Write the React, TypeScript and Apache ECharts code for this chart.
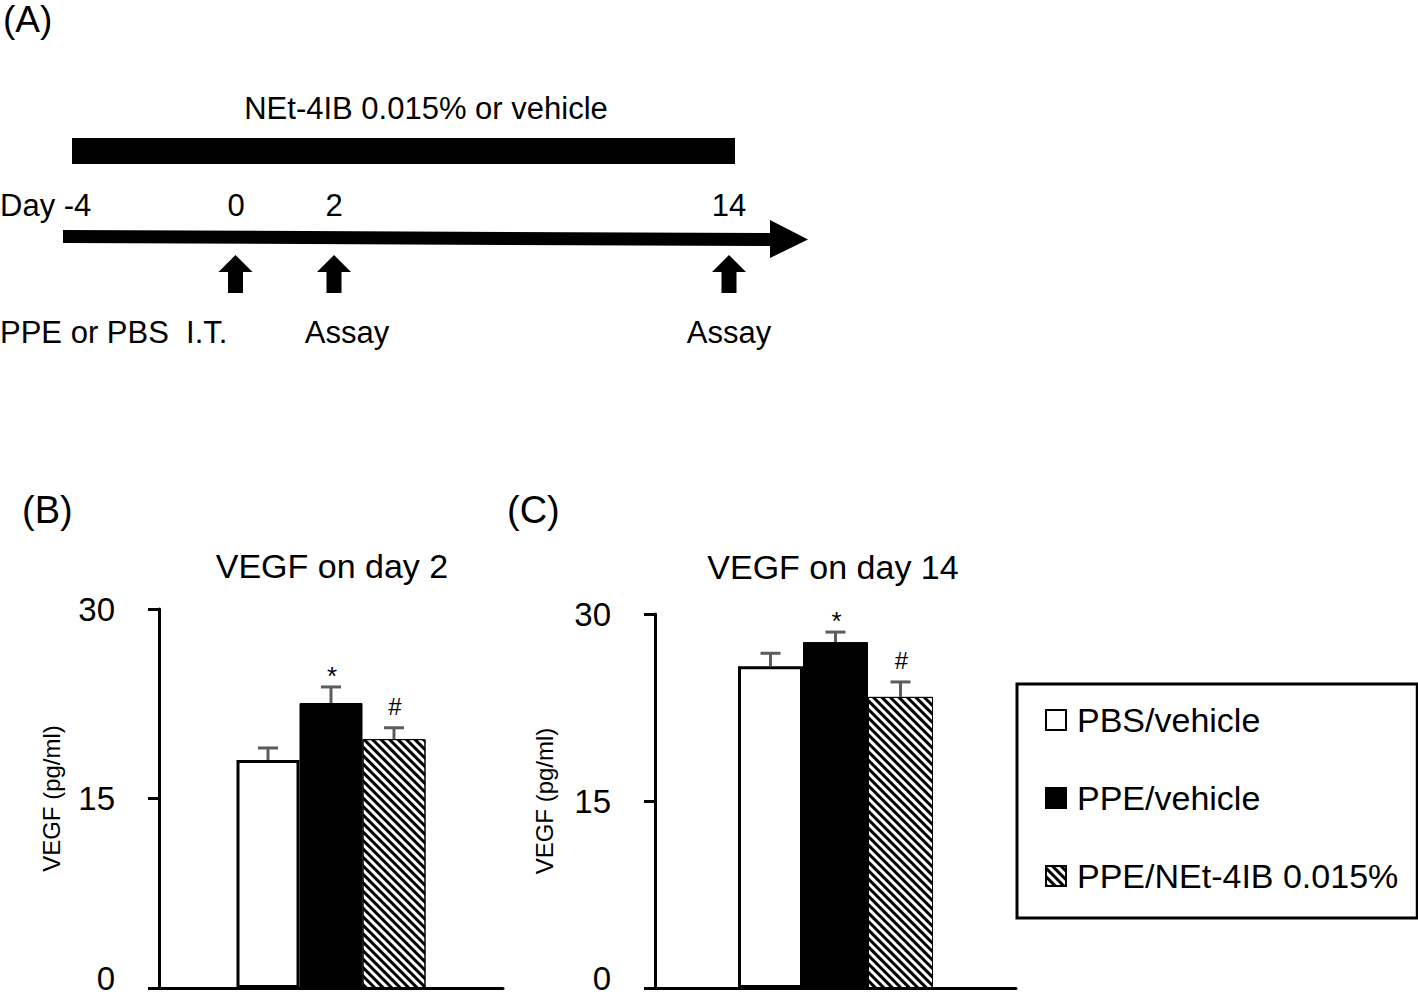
import React, { useEffect, useRef } from "react";
import * as echarts from "echarts";

const FONT = '"Liberation Sans", Arial, Helvetica, sans-serif';

const groupNames = ["PBS/vehicle", "PPE/vehicle", "PPE/NEt-4IB 0.015%"];
const categories = [""];
const day2Mean = [18.05, 22.56, 19.7];
const day2Err = [0.95, 1.27, 0.9];
const day2Sig = ["", "*", "#"];
const day14Mean = [25.8, 27.75, 23.35];
const day14Err = [1.05, 0.8, 1.2];
const day14Sig = ["", "*", "#"];
const yMin = 0;
const yMax = 30;
const yInterval = 15;
const panelTitles = ["VEGF on day 2", "VEGF on day 14"];
const panelLetters = ["(A)", "(B)", "(C)"];
const yAxisName = "VEGF (pg/ml)";
const timelineTitle = "NEt-4IB 0.015% or vehicle";
const timelineDays = ["Day -4", "0", "2", "14"];
const timelineEvents = ["PPE or PBS  I.T.", "Assay", "Assay"];

const hatchDecal = {
  symbol: "rect",
  symbolSize: 1,
  dashArrayX: [1, 0],
  dashArrayY: [2.8, 2.6],
  rotation: Math.PI / 4,
  color: "#000",
  backgroundColor: "#fff",
};

const barStyles: any[] = [
  { color: "#fff", borderColor: "#000", borderWidth: 3 },
  { color: "#000", borderColor: "#000", borderWidth: 1 },
  { color: "#fff", borderColor: "#000", borderWidth: 1, decal: hatchDecal },
];

const grids = [
  { left: 159, top: 609, width: 344, height: 379, barWidth: 63 },
  { left: 655, top: 614, width: 361, height: 374, barWidth: 65 },
];

function txt(text: string, x: number, y: number, size: number, align = "left") {
  return {
    type: "text",
    style: {
      text,
      x,
      y,
      fill: "#000",
      font: `${size}px ${FONT}`,
      align,
      verticalAlign: "middle",
    },
  };
}

function upArrow(cx: number) {
  return {
    type: "polygon",
    shape: {
      points: [
        [cx - 17, 272],
        [cx, 255],
        [cx + 17, 272],
        [cx + 7.5, 272],
        [cx + 7.5, 293],
        [cx - 7.5, 293],
        [cx - 7.5, 272],
      ],
    },
    style: { fill: "#000" },
  };
}

function errorSeries(gi: number, means: number[], errs: number[], sig: string[], bw: number) {
  return {
    type: "custom",
    xAxisIndex: gi,
    yAxisIndex: gi,
    z: 10,
    silent: true,
    encode: { x: 0, y: 1 },
    data: means.map((m, i) => [0, m, errs[i], i]),
    renderItem: (params: any, api: any) => {
      const m = api.value(1);
      const e = api.value(2);
      const i = api.value(3);
      const base = api.coord([0, m]);
      const top = api.coord([0, m + e]);
      const x = base[0] + (i - 1) * bw;
      const stroke = { stroke: "#5c5c5c", lineWidth: 3 };
      const s = sig[i];
      const children: any[] = [
        { type: "line", shape: { x1: x, y1: base[1], x2: x, y2: top[1] }, style: stroke },
        { type: "line", shape: { x1: x - 10, y1: top[1], x2: x + 10, y2: top[1] }, style: stroke },
      ];
      if (s) {
        children.push({
          type: "text",
          style: {
            text: s,
            x: x + 1,
            y: s === "*" ? top[1] - 11 : top[1] - 21,
            fill: "#000",
            font: `${s === "*" ? 26 : 24}px ${FONT}`,
            align: "center",
            verticalAlign: "middle",
          },
        });
      }
      return { type: "group", children };
    },
  };
}

export default function App() {
  const ref = useRef<HTMLDivElement>(null);
  useEffect(() => {
    if (!ref.current) return;
    const chart = echarts.init(ref.current, null, { renderer: "svg" });
    const axisLine = { show: true, lineStyle: { color: "#000", width: 3 } };
    const series: any[] = [];
    const datasets = [
      { mean: day2Mean, err: day2Err, sig: day2Sig },
      { mean: day14Mean, err: day14Err, sig: day14Sig },
    ];
    datasets.forEach((d, gi) => {
      groupNames.forEach((name, i) => {
        series.push({
          type: "bar",
          name,
          xAxisIndex: gi,
          yAxisIndex: gi,
          barWidth: grids[gi].barWidth,
          barGap: "0%",
          data: [d.mean[i]],
          itemStyle: barStyles[i],
          emphasis: { disabled: true },
        });
      });
      series.push(errorSeries(gi, d.mean, d.err, d.sig, grids[gi].barWidth));
    });

    const option: any = {
      animation: false,
      grid: grids.map((g) => ({
        left: g.left,
        top: g.top,
        width: g.width,
        height: g.height,
        containLabel: false,
        outerBoundsMode: "none",
      })),
      xAxis: grids.map((g, gi) => ({
        type: "category",
        gridIndex: gi,
        data: categories,
        axisLine,
        axisTick: { show: false },
        axisLabel: { show: false },
      })),
      yAxis: grids.map((g, gi) => ({
        type: "value",
        gridIndex: gi,
        min: yMin,
        max: yMax,
        interval: yInterval,
        axisLine,
        axisTick: { show: true, length: 11, lineStyle: { color: "#000", width: 3 } },
        axisLabel: {
          fontSize: 33,
          color: "#000",
          margin: 44,
          fontFamily: FONT,
          formatter: (v: number) => (v === 0 ? "{z|0}" : String(v)),
          rich: {
            z: {
              fontSize: 33,
              color: "#000",
              fontFamily: FONT,
              lineHeight: 26,
              padding: [0, 0, 20, 0],
            },
          },
        },
        splitLine: { show: false },
        name: yAxisName,
        nameLocation: "middle",
        nameGap: gi === 0 ? 96 : 99,
        nameTextStyle: { fontSize: 24, color: "#000", fontFamily: FONT },
      })),
      legend: {
        orient: "vertical",
        left: 1017,
        top: 684,
        data: groupNames.map((n) => ({ name: n, icon: "rect" })),
        itemWidth: 20,
        itemHeight: 20,
        itemGap: 38,
        padding: [16, 19, 22, 28],
        borderColor: "#000",
        borderWidth: 3,
        borderRadius: 0,
        selectedMode: false,
        textStyle: { fontSize: 34, color: "#000", fontFamily: FONT, lineHeight: 40, padding: [0, 0, 0, 6] },
      },
      series,
      graphic: [
        txt(panelLetters[0], 3, 19, 37),
        txt(timelineTitle, 426, 108, 31, "center"),
        { type: "rect", shape: { x: 72, y: 138, width: 663, height: 26 }, style: { fill: "#000" } },
        txt(timelineDays[0], 0, 205, 31),
        txt(timelineDays[1], 236, 205, 31, "center"),
        txt(timelineDays[2], 334, 205, 31, "center"),
        txt(timelineDays[3], 729, 205, 31, "center"),
        {
          type: "polygon",
          shape: { points: [[63, 230], [771, 233], [771, 246], [63, 243]] },
          style: { fill: "#000" },
        },
        {
          type: "polygon",
          shape: { points: [[770, 220], [808, 239.5], [770, 258]] },
          style: { fill: "#000" },
        },
        upArrow(235.5),
        upArrow(334),
        upArrow(729),
        txt(timelineEvents[0], 0, 332, 31),
        txt(timelineEvents[1], 347, 332, 31, "center"),
        txt(timelineEvents[2], 729, 332, 31, "center"),
        txt(panelLetters[1], 22, 510, 38),
        txt(panelLetters[2], 507, 510, 38),
        txt(panelTitles[0], 332, 566, 34, "center"),
        txt(panelTitles[1], 833, 567, 34, "center"),
      ],
    };
    chart.setOption(option);
    return () => chart.dispose();
  }, []);
  return (
    <div
      ref={ref}
      style={{ position: "fixed", left: 0, top: 0, width: 1418, height: 997, background: "#fff" }}
    />
  );
}
